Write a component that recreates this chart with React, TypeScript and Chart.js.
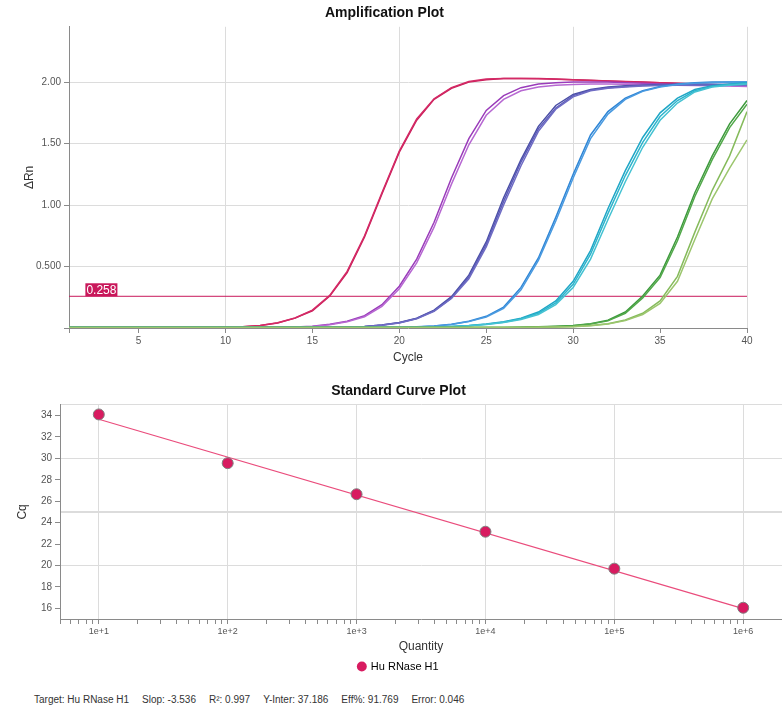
import React, { useEffect, useRef } from "react";
import { Chart, registerables } from "chart.js";

Chart.register(...registerables);

const FONT = '"Liberation Sans", Arial, sans-serif';

// ---------- Amplification plot data ----------
const cycles = [1, 2, 3, 4, 5, 6, 7, 8, 9, 10, 11, 12, 13, 14, 15, 16, 17, 18, 19, 20, 21, 22, 23, 24, 25, 26, 27, 28, 29, 30, 31, 32, 33, 34, 35, 36, 37, 38, 39, 40];
const cycleTicks = [1, 5, 10, 15, 20, 25, 30, 35, 40];
const deltaRnTicks = [0, 0.5, 1, 1.5, 2];
const threshold = 0.258;
const thresholdLabelCycle = 2;

const crimson1 = [0.004, 0.004, 0.004, 0.004, 0.004, 0.004, 0.005, 0.005, 0.005, 0.006, 0.01, 0.02, 0.04, 0.08, 0.14, 0.26, 0.45, 0.74, 1.09, 1.43, 1.69, 1.86, 1.95, 2.0, 2.02, 2.03, 2.03, 2.03, 2.025, 2.02, 2.015, 2.01, 2.005, 2.0, 1.995, 1.99, 1.985, 1.98, 1.975, 1.97];
const crimson2 = [0.004, 0.004, 0.004, 0.004, 0.004, 0.004, 0.005, 0.005, 0.005, 0.006, 0.011, 0.021, 0.042, 0.082, 0.145, 0.265, 0.46, 0.75, 1.1, 1.44, 1.7, 1.865, 1.955, 2.005, 2.025, 2.03, 2.03, 2.028, 2.024, 2.019, 2.014, 2.009, 2.004, 1.999, 1.994, 1.989, 1.984, 1.979, 1.974, 1.969];
const purple1 = [0.004, 0.004, 0.004, 0.004, 0.004, 0.004, 0.004, 0.004, 0.004, 0.004, 0.004, 0.005, 0.006, 0.008, 0.015, 0.03, 0.055, 0.1, 0.19, 0.34, 0.56, 0.86, 1.22, 1.54, 1.77, 1.89, 1.955, 1.985, 1.995, 2.0, 2.0, 2.0, 1.995, 1.99, 1.985, 1.98, 1.978, 1.975, 1.972, 1.97];
const purple2 = [0.004, 0.004, 0.004, 0.004, 0.004, 0.004, 0.004, 0.004, 0.004, 0.004, 0.004, 0.005, 0.006, 0.007, 0.013, 0.027, 0.05, 0.092, 0.175, 0.32, 0.53, 0.82, 1.17, 1.49, 1.73, 1.86, 1.93, 1.96, 1.975, 1.98, 1.985, 1.985, 1.983, 1.98, 1.978, 1.975, 1.972, 1.97, 1.968, 1.965];
const indigo1 = [0.004, 0.004, 0.004, 0.004, 0.004, 0.004, 0.004, 0.004, 0.004, 0.004, 0.004, 0.004, 0.004, 0.004, 0.004, 0.004, 0.007, 0.013, 0.025, 0.045, 0.08, 0.145, 0.255, 0.43, 0.7, 1.06, 1.37, 1.64, 1.81, 1.9, 1.94, 1.96, 1.97, 1.975, 1.98, 1.98, 1.98, 1.98, 1.98, 1.98];
const indigo2 = [0.004, 0.004, 0.004, 0.004, 0.004, 0.004, 0.004, 0.004, 0.004, 0.004, 0.004, 0.004, 0.004, 0.004, 0.004, 0.004, 0.007, 0.012, 0.024, 0.043, 0.077, 0.14, 0.245, 0.415, 0.68, 1.03, 1.35, 1.62, 1.79, 1.89, 1.935, 1.955, 1.965, 1.972, 1.977, 1.98, 1.98, 1.98, 1.98, 1.98];
const indigo3 = [0.004, 0.004, 0.004, 0.004, 0.004, 0.004, 0.004, 0.004, 0.004, 0.004, 0.004, 0.004, 0.004, 0.004, 0.004, 0.004, 0.006, 0.011, 0.022, 0.041, 0.074, 0.135, 0.24, 0.4, 0.66, 1.0, 1.32, 1.6, 1.78, 1.88, 1.93, 1.95, 1.96, 1.968, 1.972, 1.975, 1.975, 1.975, 1.975, 1.975];
const blue1 = [0.004, 0.004, 0.004, 0.004, 0.004, 0.004, 0.004, 0.004, 0.004, 0.004, 0.004, 0.004, 0.004, 0.004, 0.004, 0.004, 0.004, 0.004, 0.004, 0.006, 0.01, 0.017, 0.03, 0.055, 0.095, 0.17, 0.33, 0.57, 0.9, 1.25, 1.57, 1.76, 1.87, 1.93, 1.965, 1.985, 1.995, 2.0, 2.0, 2.0];
const blue2 = [0.004, 0.004, 0.004, 0.004, 0.004, 0.004, 0.004, 0.004, 0.004, 0.004, 0.004, 0.004, 0.004, 0.004, 0.004, 0.004, 0.004, 0.004, 0.004, 0.005, 0.009, 0.016, 0.028, 0.052, 0.09, 0.16, 0.31, 0.55, 0.87, 1.22, 1.54, 1.74, 1.86, 1.925, 1.96, 1.98, 1.99, 1.995, 2.0, 2.0];
const cyan1 = [0.004, 0.004, 0.004, 0.004, 0.004, 0.004, 0.004, 0.004, 0.004, 0.004, 0.004, 0.004, 0.004, 0.004, 0.004, 0.004, 0.004, 0.004, 0.004, 0.004, 0.004, 0.008, 0.013, 0.02, 0.032, 0.05, 0.08, 0.13, 0.22, 0.38, 0.63, 0.97, 1.28, 1.55, 1.75, 1.87, 1.94, 1.97, 1.985, 1.995];
const cyan2 = [0.004, 0.004, 0.004, 0.004, 0.004, 0.004, 0.004, 0.004, 0.004, 0.004, 0.004, 0.004, 0.004, 0.004, 0.004, 0.004, 0.004, 0.004, 0.004, 0.004, 0.004, 0.007, 0.012, 0.019, 0.03, 0.047, 0.075, 0.12, 0.205, 0.355, 0.6, 0.93, 1.24, 1.51, 1.72, 1.85, 1.93, 1.965, 1.98, 1.99];
const cyan3 = [0.004, 0.004, 0.004, 0.004, 0.004, 0.004, 0.004, 0.004, 0.004, 0.004, 0.004, 0.004, 0.004, 0.004, 0.004, 0.004, 0.004, 0.004, 0.004, 0.004, 0.004, 0.007, 0.011, 0.018, 0.028, 0.044, 0.07, 0.11, 0.19, 0.33, 0.56, 0.88, 1.19, 1.47, 1.69, 1.83, 1.92, 1.96, 1.975, 1.985];
const green1 = [0.004, 0.004, 0.004, 0.004, 0.004, 0.004, 0.004, 0.004, 0.004, 0.004, 0.004, 0.004, 0.004, 0.004, 0.004, 0.004, 0.004, 0.004, 0.004, 0.004, 0.004, 0.004, 0.004, 0.004, 0.004, 0.005, 0.007, 0.01, 0.014, 0.02, 0.035, 0.063, 0.13, 0.26, 0.43, 0.74, 1.1, 1.4, 1.66, 1.85];
const green2 = [0.004, 0.004, 0.004, 0.004, 0.004, 0.004, 0.004, 0.004, 0.004, 0.004, 0.004, 0.004, 0.004, 0.004, 0.004, 0.004, 0.004, 0.004, 0.004, 0.004, 0.004, 0.004, 0.004, 0.004, 0.004, 0.005, 0.006, 0.009, 0.013, 0.018, 0.032, 0.058, 0.12, 0.245, 0.41, 0.71, 1.07, 1.37, 1.63, 1.82];
const lightGreen1 = [0.004, 0.004, 0.004, 0.004, 0.004, 0.004, 0.004, 0.004, 0.004, 0.004, 0.004, 0.004, 0.004, 0.004, 0.004, 0.004, 0.004, 0.004, 0.004, 0.004, 0.004, 0.004, 0.004, 0.004, 0.004, 0.004, 0.005, 0.007, 0.009, 0.012, 0.02, 0.035, 0.065, 0.12, 0.22, 0.42, 0.78, 1.12, 1.4, 1.76];
const lightGreen2 = [0.004, 0.004, 0.004, 0.004, 0.004, 0.004, 0.004, 0.004, 0.004, 0.004, 0.004, 0.004, 0.004, 0.004, 0.004, 0.004, 0.004, 0.004, 0.004, 0.004, 0.004, 0.004, 0.004, 0.004, 0.004, 0.004, 0.005, 0.006, 0.008, 0.01, 0.018, 0.032, 0.06, 0.11, 0.2, 0.38, 0.72, 1.05, 1.3, 1.53];

const curves = [
  { values: lightGreen2, color: "#9cc66e" },
  { values: lightGreen1, color: "#86bb5c" },
  { values: green2, color: "#52a84a" },
  { values: green1, color: "#3d9a3d" },
  { values: cyan3, color: "#45c2d2" },
  { values: cyan2, color: "#2db4cc" },
  { values: cyan1, color: "#1fa6c6" },
  { values: blue2, color: "#4a9ae0" },
  { values: blue1, color: "#2f86d6" },
  { values: indigo3, color: "#6f6cc4" },
  { values: indigo2, color: "#5c5cb8" },
  { values: indigo1, color: "#4b4fa6" },
  { values: purple2, color: "#b768d2" },
  { values: purple1, color: "#9a3cba" },
  { values: crimson2, color: "#d42a66" },
  { values: crimson1, color: "#c81d58" },
];

// ---------- Standard curve data ----------
const quantities = [10, 100, 1000, 10000, 100000, 1000000];
const cqValues = [34.1, 29.55, 26.65, 23.15, 19.7, 16.05];
const fitQuantities = [10, 1000000];
const fitCq = [33.65, 15.97];
const cqGridTicks = [15, 16, 18, 20, 22, 24, 25, 26, 28, 30, 32, 34, 35];
const targetName = "Hu RNase H1";
const stats = [
  "Target: Hu RNase H1",
  "Slop: -3.536",
  "R\u00b2: 0.997",
  "Y-Inter: 37.186",
  "Eff%: 91.769",
  "Error: 0.046",
];

const TRANSPARENT = "rgba(0,0,0,0)";
const GRID = "#dcdcdc";
const AXIS = "#8a8a8a";

const thresholdLabelPlugin = {
  id: "thresholdLabel",
  afterDatasetsDraw(chart: any) {
    const { ctx, scales } = chart;
    const px = scales.x.getPixelForValue(thresholdLabelCycle);
    const py = scales.y.getPixelForValue(threshold);
    const text = threshold.toFixed(3);
    ctx.save();
    ctx.font = `12px ${FONT}`;
    const w = ctx.measureText(text).width + 2;
    ctx.fillStyle = "#c9185b";
    ctx.fillRect(px - 1, py - 13, w, 13);
    ctx.fillStyle = "#ffffff";
    ctx.textBaseline = "middle";
    ctx.textAlign = "left";
    ctx.fillText(text, px, py - 6);
    ctx.restore();
  },
};

function isPow10(v: number) {
  const l = Math.log10(v);
  return Math.abs(l - Math.round(l)) < 1e-9;
}

export default function App() {
  const topRef = useRef<HTMLCanvasElement | null>(null);
  const bottomRef = useRef<HTMLCanvasElement | null>(null);

  useEffect(() => {
    document.body.style.margin = "0";
    Chart.defaults.font.family = FONT;

    const ampDatasets: any[] = curves.map((c) => ({
      data: cycles.map((x, i) => ({ x, y: c.values[i] })),
      borderColor: c.color,
      borderWidth: 1.5,
      pointRadius: 0,
      tension: 0,
      fill: false,
    }));
    ampDatasets.push({
      data: [
        { x: cycles[0], y: threshold },
        { x: cycles[cycles.length - 1], y: threshold },
      ],
      borderColor: "#c9185b",
      borderWidth: 1,
      pointRadius: 0,
      fill: false,
    });

    const top = new Chart(topRef.current as HTMLCanvasElement, {
      type: "line",
      data: { datasets: ampDatasets },
      options: {
        animation: false,
        responsive: false,
        layout: { padding: { left: 22, right: 35, top: 0, bottom: 0 } },
        plugins: {
          legend: { display: false },
          tooltip: { enabled: false },
          title: {
            display: true,
            text: "Amplification Plot",
            color: "#111",
            font: { size: 14, weight: "bold", family: FONT },
            padding: { top: 5, bottom: 5 },
          },
        },
        scales: {
          x: {
            type: "linear",
            min: 1,
            max: 40,
            afterBuildTicks: (s: any) => {
              s.ticks = cycleTicks.map((v) => ({ value: v }));
            },
            afterFit: (s: any) => {
              s.height = 44;
            },
            ticks: {
              callback: (v: any) => (v === 1 ? "" : String(v)),
              color: "#555",
              font: { size: 10 },
              padding: 2,
              maxRotation: 0,
              autoSkip: false,
            },
            grid: {
              color: (ctx: any) => (ctx.tick && ctx.tick.value % 10 === 0 ? GRID : TRANSPARENT),
              tickColor: AXIS,
              tickLength: 5,
            },
            border: { color: AXIS },
            title: {
              display: true,
              text: "Cycle",
              color: "#333",
              font: { size: 12 },
              padding: { top: 4, bottom: 7 },
            },
          },
          y: {
            min: 0,
            max: 2.45,
            afterBuildTicks: (s: any) => {
              s.ticks = deltaRnTicks.map((v) => ({ value: v }));
            },
            afterFit: (s: any) => {
              s.width = 47;
            },
            ticks: {
              callback: (v: any) => (v === 0 ? "" : v === 0.5 ? "0.500" : Number(v).toFixed(2)),
              color: "#555",
              font: { size: 10 },
              padding: 3,
            },
            grid: {
              color: (ctx: any) => (ctx.tick && ctx.tick.value > 0 ? GRID : TRANSPARENT),
              tickColor: AXIS,
              tickLength: 5,
            },
            border: { color: AXIS },
            title: {
              display: true,
              text: "\u0394Rn",
              color: "#333",
              font: { size: 12 },
              padding: { top: 0, bottom: 0 },
            },
          },
        },
      } as any,
      plugins: [thresholdLabelPlugin],
    });

    const bottom = new Chart(bottomRef.current as HTMLCanvasElement, {
      type: "scatter",
      data: {
        datasets: [
          {
            label: targetName,
            data: quantities.map((q, i) => ({ x: q, y: cqValues[i] })),
            backgroundColor: "#d81b60",
            borderColor: "#808080",
            borderWidth: 1,
            pointRadius: 5.5,
          },
          {
            label: "fit",
            data: fitQuantities.map((q, i) => ({ x: q, y: fitCq[i] })),
            showLine: true,
            borderColor: "#ea4c7c",
            borderWidth: 1.2,
            pointRadius: 0,
          },
        ],
      },
      options: {
        animation: false,
        responsive: false,
        layout: { autoPadding: false, padding: { left: 15, right: 0, top: 0, bottom: 0 } },
        plugins: {
          tooltip: { enabled: false },
          title: {
            display: true,
            text: "Standard Curve Plot",
            color: "#111",
            font: { size: 14, weight: "bold", family: FONT },
            padding: { top: 11, bottom: 5 },
          },
          legend: {
            position: "bottom",
            labels: {
              boxWidth: 7,
              boxHeight: 7,
              padding: 6,
              color: "#333",
              font: { size: 11 },
              usePointStyle: true,
              generateLabels: () => [
                {
                  text: targetName,
                  fillStyle: "#d81b60",
                  strokeStyle: "#d81b60",
                  lineWidth: 0,
                  pointStyle: "circle",
                  hidden: false,
                  datasetIndex: 0,
                },
              ],
            },
          },
        },
        scales: {
          x: {
            type: "logarithmic",
            min: 5,
            max: 2000000,
            afterBuildTicks: (s: any) => {
              const list: number[] = [];
              for (let e = 0; e <= 6; e++) {
                for (let m = 1; m <= 9; m++) {
                  const v = m * Math.pow(10, e);
                  if (v >= 5 && v <= 2000000) list.push(v);
                }
              }
              s.ticks = list.map((v) => ({ value: v }));
            },
            afterFit: (s: any) => {
              s.height = 36;
              s.paddingRight = 0;
            },
            ticks: {
              callback: (v: any) => (isPow10(Number(v)) ? "1e+" + Math.round(Math.log10(Number(v))) : ""),
              color: "#555",
              font: { size: 9 },
              padding: 2,
              maxRotation: 0,
              autoSkip: false,
            },
            grid: {
              color: (ctx: any) => (ctx.tick && isPow10(ctx.tick.value) ? GRID : TRANSPARENT),
              tickColor: AXIS,
              tickLength: 5,
            },
            border: { color: AXIS },
            title: {
              display: true,
              text: "Quantity",
              color: "#333",
              font: { size: 12 },
              padding: { top: 2, bottom: 1 },
            },
          },
          y: {
            min: 15,
            max: 35,
            afterBuildTicks: (s: any) => {
              s.ticks = cqGridTicks.map((v) => ({ value: v }));
            },
            afterFit: (s: any) => {
              s.width = 45;
            },
            ticks: {
              callback: (v: any) => (Number(v) % 2 === 0 ? String(v) : ""),
              color: "#555",
              font: { size: 10 },
              padding: 3,
              autoSkip: false,
            },
            grid: {
              color: (ctx: any) =>
                ctx.tick && ctx.tick.value % 5 === 0 && ctx.tick.value > 15 ? GRID : TRANSPARENT,
              lineWidth: (ctx: any) => (ctx.tick && ctx.tick.value === 25 ? 2 : 1),
              tickColor: (ctx: any) => (ctx.tick && ctx.tick.value % 2 === 0 ? AXIS : TRANSPARENT),
              tickLength: 5,
            },
            border: { color: AXIS },
            title: {
              display: true,
              text: "Cq",
              color: "#333",
              font: { size: 12 },
              padding: { top: 0, bottom: 0 },
            },
          },
        },
      } as any,
    });

    return () => {
      top.destroy();
      bottom.destroy();
    };
  }, []);

  return (
    <div style={{ width: 782, fontFamily: FONT }}>
      <canvas ref={topRef} width={782} height={372} style={{ display: "block" }} />
      <canvas ref={bottomRef} width={782} height={310} style={{ display: "block" }} />
      <div
        style={{
          marginTop: 11,
          paddingLeft: 34,
          fontSize: 10,
          lineHeight: "14px",
          color: "#333",
          whiteSpace: "nowrap",
        }}
      >
        {stats.map((s, i) => (
          <span key={i} style={{ marginRight: 13 }}>
            {s}
          </span>
        ))}
      </div>
    </div>
  );
}
